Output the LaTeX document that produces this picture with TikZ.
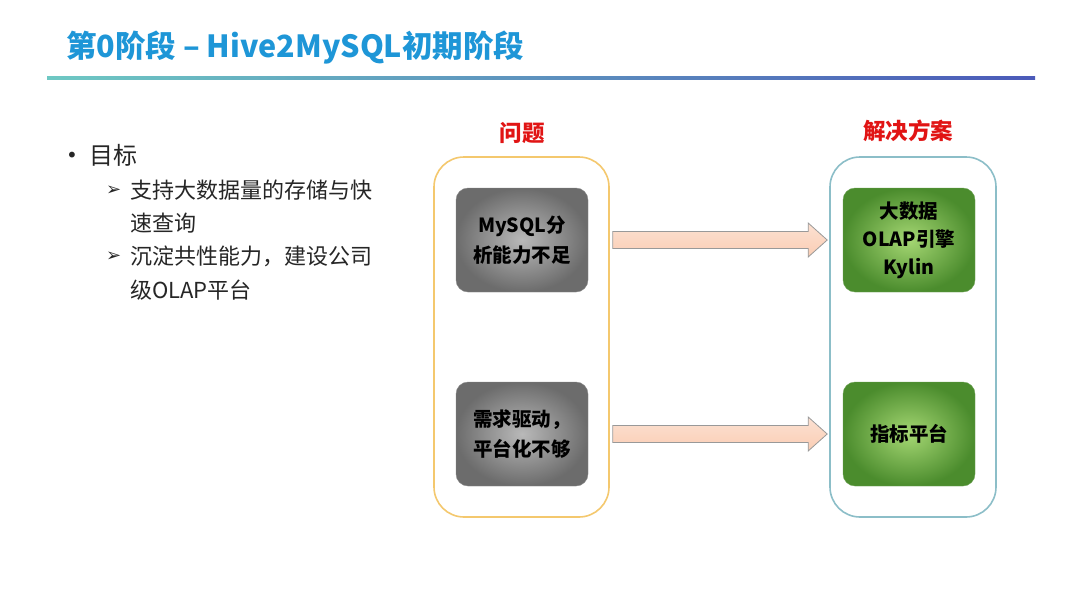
\documentclass[tikz,border=0pt]{standalone}
\usepackage{fontspec}
\setmainfont{Noto Sans CJK SC}
\newfontfamily\cjk{Noto Sans CJK SC}
\newfontfamily\djv{DejaVu Sans}
\usetikzlibrary{calc,shadings}
\definecolor{titleblue}{RGB}{30,150,215}
\definecolor{headred}{RGB}{225,20,20}
\definecolor{lborder}{RGB}{244,200,110}
\definecolor{rborder}{RGB}{140,190,200}
\definecolor{grayin}{RGB}{185,185,185}
\definecolor{grayout}{RGB}{108,108,108}
\definecolor{greenin}{RGB}{165,215,115}
\definecolor{greenout}{RGB}{75,140,45}
\definecolor{peach}{RGB}{250,205,180}
\definecolor{peachlt}{RGB}{252,225,210}
\definecolor{lineA}{RGB}{110,200,195}
\definecolor{lineB}{RGB}{85,155,165}
\definecolor{lineC}{RGB}{75,90,185}
\tikzset{
  container/.style={draw, line width=1.6pt, rounded corners=30pt, minimum width=#1, minimum height=360pt},
  graybox/.style={rounded corners=12pt, minimum width=132pt, minimum height=104pt,
     inner color=grayin, outer color=grayout, draw=grayout!80,
     align=center, font=\cjk\bfseries\fontsize{19.5}{30}\selectfont},
  greenbox/.style={rounded corners=12pt, minimum width=132pt, minimum height=104pt,
     inner color=greenin, outer color=greenout, draw=greenout!80,
     align=center, font=\cjk\bfseries\fontsize{19.5}{28}\selectfont},
  head/.style={text=headred, font=\cjk\bfseries\fontsize{22.5}{24}\selectfont},
  bodytxt/.style={anchor=west, inner sep=0pt, font=\cjk\fontsize{22}{24}\selectfont, text=black!85},
  marktxt/.style={anchor=west, inner sep=0pt, font=\djv\fontsize{18}{20}\selectfont, text=black!85},
  bigarrow/.style={draw=gray!80, line width=0.8pt, top color=peachlt, bottom color=peach, middle color=peach!80}
}
\begin{document}
\begin{tikzpicture}[x=1pt,y=-1pt]
\useasboundingbox[fill=white] (0,0) rectangle (1080,608);
% title
\node[anchor=west, inner sep=0pt, text=titleblue, font=\cjk\bfseries\fontsize{30.5}{32}\selectfont] (title) at (66,48) {第0阶段 – Hive2MySQL初期阶段};
\shade[left color=lineA, middle color=lineB, right color=lineC] (47,76.5) rectangle (1035,79);
% left bullets
\node[marktxt, font=\djv\fontsize{20}{20}\selectfont] (b0) at (66,157) {•};
\node[bodytxt, font=\cjk\fontsize{24}{24}\selectfont] (t0) at (89,155) {目标};
\node[marktxt] (a1) at (106,191) {➢};
\node[bodytxt] (t1) at (130,190) {支持大数据量的存储与快};
\node[bodytxt] (t1b) at (130,223) {速查询};
\node[marktxt] (a2) at (106,257) {➢};
\node[bodytxt] (t2) at (130,256) {沉淀共性能力，建设公司};
\node[bodytxt] (t2b) at (130,290) {级OLAP平台};
% headers
\node[head] (hq) at (522,133) {问题};
\node[head] (hs) at (908,131) {解决方案};
% containers
\node[container=175pt, draw=lborder] (L) at (521.5,337) {};
\node[container=166pt, draw=rborder] (R) at (913,337) {};
% boxes
\node[graybox] (g1) at (522,240) {MySQL分\\析能力不足};
\node[graybox] (g2) at (522,434) {需求驱动，\\平台化不够};
\node[greenbox] (s1) at (909,240) {大数据\\OLAP引擎\\Kylin};
\node[greenbox] (s2) at (909,434) {指标平台};
% arrows
\foreach \src/\dst in {g1/s1, g2/s2}{
  \path let \p1=($(L.east |- \src)+(3pt,0)$), \p2=($(R.west |- \dst)+(-2pt,0)$) in
    [bigarrow] (\x1,\y1+8.5pt) -- (\x2-19pt,\y1+8.5pt) -- (\x2-19pt,\y1+17pt) -- (\x2,\y1)
      -- (\x2-19pt,\y1-17pt) -- (\x2-19pt,\y1-8.5pt) -- (\x1,\y1-8.5pt) -- cycle;
}
\end{tikzpicture}
\end{document}
